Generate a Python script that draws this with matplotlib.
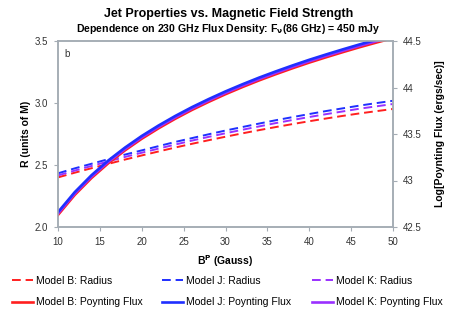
import matplotlib
matplotlib.use("Agg")
import matplotlib.pyplot as plt
from matplotlib.lines import Line2D

plt.rcParams['font.family'] = ['Liberation Sans', 'DejaVu Sans']

B_field = [10, 12, 14, 16, 18, 20, 22, 24, 26, 28, 30, 32, 34, 36, 38, 40, 42, 44, 46, 48, 50]

radius_B = [2.400, 2.438, 2.474, 2.509, 2.544, 2.577, 2.609, 2.641, 2.671, 2.700, 2.728,
            2.755, 2.781, 2.806, 2.830, 2.853, 2.875, 2.896, 2.916, 2.934, 2.952]
radius_J = [2.433, 2.473, 2.510, 2.547, 2.584, 2.618, 2.652, 2.686, 2.717, 2.748, 2.778,
            2.806, 2.834, 2.861, 2.886, 2.911, 2.935, 2.957, 2.979, 2.999, 3.018]
radius_K = [2.416, 2.455, 2.492, 2.529, 2.565, 2.599, 2.632, 2.665, 2.697, 2.727, 2.756,
            2.784, 2.811, 2.838, 2.863, 2.887, 2.910, 2.932, 2.954, 2.973, 2.992]

flux_B = [42.630, 42.845, 43.027, 43.185, 43.324, 43.449, 43.561, 43.664, 43.759, 43.846, 43.928,
          44.004, 44.076, 44.143, 44.207, 44.268, 44.325, 44.380, 44.433, 44.483, 44.531]
flux_K = [42.645, 42.860, 43.042, 43.200, 43.339, 43.464, 43.576, 43.679, 43.774, 43.861, 43.943,
          44.019, 44.091, 44.158, 44.222, 44.283, 44.340, 44.395, 44.448, 44.498, 44.546]
flux_J = [42.660, 42.875, 43.057, 43.215, 43.354, 43.479, 43.591, 43.694, 43.789, 43.876, 43.958,
          44.034, 44.106, 44.173, 44.237, 44.298, 44.355, 44.410, 44.463, 44.513, 44.561]

x_ticks = [10, 15, 20, 25, 30, 35, 40, 45, 50]
left_ticks = [2.0, 2.5, 3.0, 3.5]
right_ticks = [42.5, 43.0, 43.5, 44.0, 44.5]
right_tick_labels = ["42.5", "43", "43.5", "44", "44.5"]

models = ['B', 'J', 'K']

RED = '#ff1f1f'
BLUE = '#1f2fff'
PURPLE = '#9a30ff'
SPINE = '#a4acb4'
TICKTXT = '#333333'

fig = plt.figure(figsize=(4.57, 3.13), dpi=100)
ax = fig.add_axes([58/457, 1-227/313, (393-58)/457, (227-41)/313])
ax2 = ax.twinx()

dash = (0, (4.5, 2.5))
lw_d = 1.4
lw_s = 1.9
ax.plot(B_field, radius_B, color=RED, lw=lw_d, linestyle=dash)
ax.plot(B_field, radius_K, color=PURPLE, lw=lw_d, linestyle=dash)
ax.plot(B_field, radius_J, color=BLUE, lw=lw_d, linestyle=dash)

ax2.plot(B_field, flux_B, color=RED, lw=lw_s)
ax2.plot(B_field, flux_K, color=PURPLE, lw=lw_s)
ax2.plot(B_field, flux_J, color=BLUE, lw=lw_s)

ax.set_xlim(10, 50)
ax.set_ylim(2.0, 3.5)
ax2.set_ylim(42.5, 44.5)
ax.set_xticks(x_ticks)
ax.set_yticks(left_ticks)
ax.set_yticklabels([f"{v:.1f}" for v in left_ticks])
ax2.set_yticks(right_ticks)
ax2.set_yticklabels(right_tick_labels)

for a in (ax, ax2):
    for s in a.spines.values():
        s.set_color(SPINE)
        s.set_linewidth(1.1)
    a.tick_params(colors=SPINE, labelcolor=TICKTXT, labelsize=7, length=3, width=0.8, direction='out', pad=4)

ax.text(0.018, 0.955, 'b', transform=ax.transAxes, fontsize=7, color='#333333', va='top', ha='left')

ax.set_ylabel('R (units of M)', fontsize=7.5, fontweight='bold', labelpad=3)
ax2.set_ylabel('Log[Poynting Flux (ergs/sec)]', fontsize=7.5, fontweight='bold', labelpad=10)
ax.set_xlabel(r'B$^\mathbf{P}$ (Gauss)', fontsize=7.5, fontweight='bold', labelpad=5)

fig.text(0.5, 1-14/313, 'Jet Properties vs. Magnetic Field Strength', ha='center', va='center',
         fontsize=9, fontweight='bold')
fig.text(0.5, 1-29/313, r'Dependence on 230 GHz Flux Density: F$_\mathbf{\nu}$(86 GHz) = 450 mJy',
         ha='center', va='center', fontsize=7.6, fontweight='bold')

colors = [RED, BLUE, PURPLE]
col_x = [12, 162, 312]
for m, c, x0 in zip(models, colors, col_x):
    hs = [Line2D([], [], color=c, lw=lw_d, linestyle=dash), Line2D([], [], color=c, lw=lw_s)]
    ls = [f'Model {m}: Radius', f'Model {m}: Poynting Flux']
    fig.legend(hs, ls, loc='upper left', bbox_to_anchor=(x0/457, 1-276/313),
               frameon=False, fontsize=7.5, handlelength=2.0, handletextpad=0.3,
               labelspacing=1.1, borderaxespad=0, borderpad=0)

fig.savefig('out.png', dpi=100)
